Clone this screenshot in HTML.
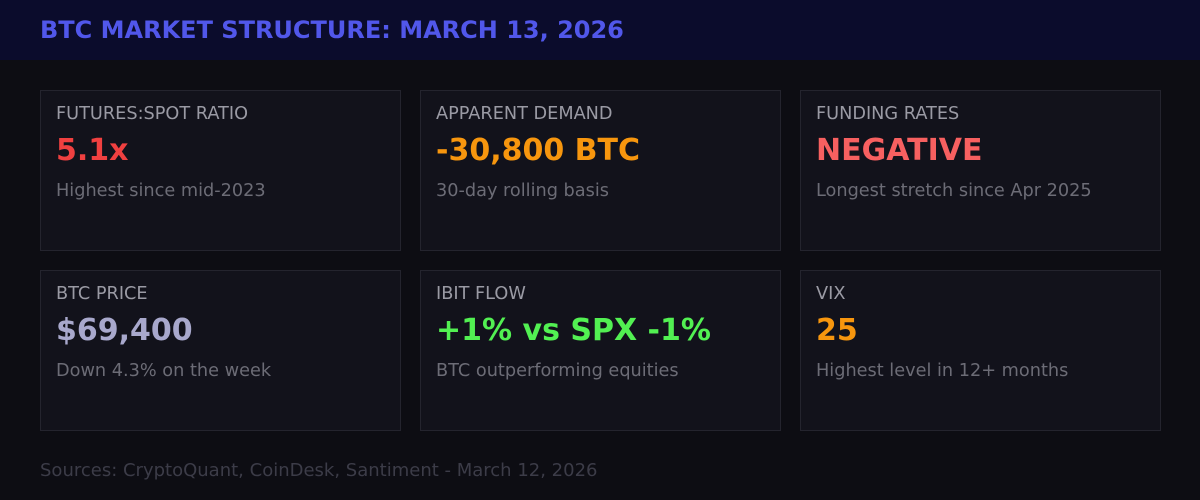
<!DOCTYPE html>
<html><head><style>
*{margin:0;padding:0;box-sizing:border-box}
body{width:1200px;height:500px;background:#0d0d13;font-family:"DejaVu Sans","Liberation Sans",sans-serif;position:relative;overflow:hidden}
.hdr{position:absolute;left:0;top:0;width:1200px;height:60px;background:#0b0c2c}
.hdr div{position:absolute;left:40px;top:16px;font-size:24px;font-weight:bold;color:#5157ea;white-space:nowrap}
.card{position:absolute;width:361px;height:161px;background:#12121b;border:1px solid #24242e}
.l{position:absolute;left:15px;top:13px;font-size:17.7px;color:#9a9aa4;white-space:nowrap}
.v{position:absolute;left:15px;top:42px;font-size:30px;font-weight:bold;white-space:nowrap}
.s{position:absolute;left:15px;top:90px;font-size:17.7px;color:#6c6c76;white-space:nowrap}
.src{position:absolute;left:40px;top:460px;font-size:18px;color:#3c3c48}
</style></head><body>
<div class="hdr"><div>BTC MARKET STRUCTURE: MARCH 13, 2026</div></div>
<div class="card" style="left:40px;top:90px"><div class="l">FUTURES:SPOT RATIO</div><div class="v" style="color:#f04040">5.1x</div><div class="s">Highest since mid-2023</div></div>
<div class="card" style="left:420px;top:90px"><div class="l">APPARENT DEMAND</div><div class="v" style="color:#f7960e">-30,800 BTC</div><div class="s">30-day rolling basis</div></div>
<div class="card" style="left:800px;top:90px"><div class="l">FUNDING RATES</div><div class="v" style="color:#f76060">NEGATIVE</div><div class="s">Longest stretch since Apr 2025</div></div>
<div class="card" style="left:40px;top:270px"><div class="l">BTC PRICE</div><div class="v" style="color:#a8a8cc">$69,400</div><div class="s">Down 4.3% on the week</div></div>
<div class="card" style="left:420px;top:270px"><div class="l">IBIT FLOW</div><div class="v" style="color:#52f052">+1% vs SPX -1%</div><div class="s">BTC outperforming equities</div></div>
<div class="card" style="left:800px;top:270px"><div class="l">VIX</div><div class="v" style="color:#f7960e">25</div><div class="s">Highest level in 12+ months</div></div>
<div class="src">Sources: CryptoQuant, CoinDesk, Santiment - March 12, 2026</div>
</body></html>
